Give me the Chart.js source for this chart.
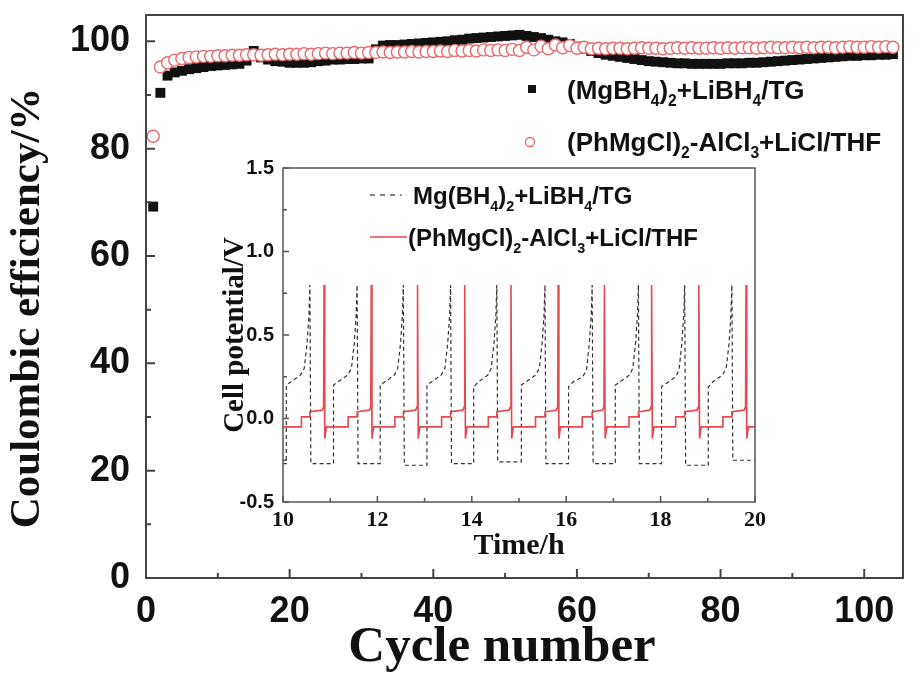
<!DOCTYPE html>
<html>
<head>
<meta charset="utf-8">
<script src="https://cdn.jsdelivr.net/npm/chart.js@4.4.1/dist/chart.umd.min.js"></script>
<style>
  html, body { margin: 0; padding: 0; background: #fff; }
  #wrap { position: relative; width: 920px; height: 675px; }
  #main { position: absolute; left: 0; top: 0; }
  #inset { position: absolute; left: 210px; top: 150px; }
</style>
</head>
<body>
<div id="wrap">
  <canvas id="main" width="920" height="675"></canvas>
  <canvas id="inset" width="560" height="420"></canvas>
</div>
<script>
// coulombic efficiency per cycle (%)
const cycles = Array.from({ length: 104 }, (_, i) => i + 1);
const tgEff = [
  69.2, 90.4, 93.6, 94.2, 94.5, 94.8, 95.0, 95.2, 95.4, 95.5,
  95.6, 95.7, 95.8, 96.4, 98.2, 97.0, 96.6, 96.3, 96.2, 96.0,
  96.0, 96.0, 96.1, 96.3, 96.4, 96.6, 96.6, 96.7, 96.7, 96.8,
  96.8, 98.5, 99.2, 99.3, 99.3, 99.4, 99.5, 99.6, 99.7, 99.8,
  99.9, 100.0, 100.2, 100.3, 100.5, 100.6, 100.7, 100.8, 100.9, 101.0,
  101.1, 101.2, 101.0, 100.8, 100.6, 100.3, 100.0, 99.8, 99.5, 99.0,
  98.6, 98.2, 97.8, 97.5, 97.3, 97.1, 96.9, 96.7, 96.5, 96.3,
  96.2, 96.1, 96.0, 95.9, 95.9, 95.8, 95.8, 95.8, 95.8, 95.8,
  95.9, 95.9, 95.9, 96.0, 96.0, 96.1, 96.2, 96.3, 96.4, 96.5,
  96.6, 96.7, 96.8, 96.9, 97.0, 97.1, 97.2, 97.3, 97.3, 97.4,
  97.4, 97.5, 97.5, 97.6
];
const thfEff = [
  82.3, 95.2, 96.0, 96.5, 96.8, 97.0, 97.1, 97.2, 97.2, 97.3,
  97.3, 97.4, 97.4, 97.5, 97.5, 97.4, 97.5, 97.6, 97.5, 97.6,
  97.6, 97.7, 97.6, 97.7, 97.8, 97.7, 97.8, 97.8, 97.9, 97.8,
  97.9, 97.9, 98.0, 97.9, 98.0, 98.0, 98.1, 98.0, 98.1, 98.1,
  98.2, 98.1, 98.3, 98.2, 98.3, 98.2, 98.4, 98.3, 98.4, 98.3,
  98.5, 98.3, 98.9, 98.4, 99.1, 98.6, 99.3, 98.8, 99.2, 98.7,
  98.9, 98.6, 98.7, 98.6, 98.7, 98.7, 98.6, 98.7, 98.8, 98.7,
  98.7, 98.6, 98.7, 98.8, 98.7, 98.8, 98.7, 98.7, 98.8, 98.7,
  98.8, 98.7, 98.8, 98.8, 98.7, 98.8, 98.9, 98.8, 98.8, 98.9,
  98.8, 98.9, 98.8, 98.9, 98.9, 98.8, 98.9, 99.0, 98.9, 98.9,
  99.0, 98.9, 99.0, 98.9
];
const cycleTicks = [0, 20, 40, 60, 80, 100];
const effTicks = [0, 20, 40, 60, 80, 100];

// cell potential vs time, [h, V]
const tgCurve = [
  [10.00, -0.27], [10.07, -0.27], [10.07, 0.20], [10.17, 0.22], [10.37, 0.26], [10.45, 0.30], [10.51, 0.45], [10.55, 0.62], [10.57, 0.80],
  [10.59, -0.27], [11.07, -0.27], [11.07, 0.20], [11.17, 0.22], [11.37, 0.26], [11.45, 0.30], [11.51, 0.45], [11.55, 0.62], [11.57, 0.80],
  [11.59, -0.27], [12.06, -0.27], [12.06, 0.20], [12.16, 0.22], [12.36, 0.26], [12.43, 0.30], [12.49, 0.45], [12.53, 0.62], [12.55, 0.80],
  [12.57, -0.28], [13.05, -0.28], [13.05, 0.20], [13.15, 0.22], [13.35, 0.26], [13.43, 0.30], [13.49, 0.45], [13.53, 0.62], [13.55, 0.80],
  [13.57, -0.27], [14.04, -0.27], [14.04, 0.19], [14.14, 0.22], [14.34, 0.26], [14.41, 0.30], [14.47, 0.45], [14.51, 0.62], [14.53, 0.80],
  [14.55, -0.26], [15.05, -0.26], [15.05, 0.20], [15.15, 0.22], [15.35, 0.26], [15.43, 0.30], [15.49, 0.45], [15.53, 0.62], [15.55, 0.80],
  [15.57, -0.27], [16.05, -0.27], [16.05, 0.19], [16.15, 0.22], [16.35, 0.25], [16.43, 0.29], [16.49, 0.45], [16.53, 0.62], [16.55, 0.80],
  [16.57, -0.27], [17.04, -0.27], [17.04, 0.20], [17.14, 0.22], [17.34, 0.26], [17.41, 0.30], [17.47, 0.45], [17.51, 0.62], [17.53, 0.80],
  [17.55, -0.27], [18.02, -0.27], [18.02, 0.19], [18.12, 0.21], [18.32, 0.25], [18.39, 0.29], [18.45, 0.45], [18.49, 0.62], [18.51, 0.80],
  [18.53, -0.28], [19.01, -0.28], [19.01, 0.19], [19.11, 0.22], [19.31, 0.26], [19.39, 0.30], [19.45, 0.45], [19.49, 0.62], [19.51, 0.80],
  [19.53, -0.25], [20.00, -0.25]
];
const thfCurve = [
  [10.00, -0.05], [10.39, -0.05], [10.39, 0.01], [10.57, 0.01], [10.57, 0.04], [10.83, 0.05], [10.86, 0.07], [10.87, 0.80], [10.885, -0.12], [10.92, -0.05],
  [11.38, -0.05], [11.38, 0.01], [11.57, 0.01], [11.57, 0.04], [11.83, 0.05], [11.86, 0.07], [11.87, 0.80], [11.885, -0.12], [11.92, -0.05],
  [12.37, -0.05], [12.37, 0.01], [12.55, 0.01], [12.55, 0.04], [12.81, 0.05], [12.84, 0.07], [12.85, 0.80], [12.865, -0.12], [12.90, -0.05],
  [13.36, -0.05], [13.36, 0.01], [13.55, 0.01], [13.55, 0.04], [13.81, 0.05], [13.84, 0.07], [13.85, 0.80], [13.865, -0.12], [13.90, -0.05],
  [14.35, -0.05], [14.35, 0.01], [14.53, 0.01], [14.53, 0.04], [14.79, 0.05], [14.82, 0.07], [14.83, 0.80], [14.845, -0.12], [14.88, -0.05],
  [15.35, -0.05], [15.35, 0.01], [15.55, 0.01], [15.55, 0.04], [15.79, 0.05], [15.82, 0.07], [15.83, 0.80], [15.845, -0.12], [15.88, -0.05],
  [16.34, -0.05], [16.34, 0.01], [16.55, 0.01], [16.55, 0.04], [16.77, 0.05], [16.80, 0.07], [16.81, 0.80], [16.825, -0.12], [16.86, -0.05],
  [17.33, -0.05], [17.33, 0.01], [17.53, 0.01], [17.53, 0.04], [17.77, 0.05], [17.80, 0.07], [17.81, 0.80], [17.825, -0.12], [17.86, -0.05],
  [18.32, -0.05], [18.32, 0.01], [18.51, 0.01], [18.51, 0.04], [18.77, 0.05], [18.80, 0.07], [18.81, 0.80], [18.825, -0.12], [18.86, -0.05],
  [19.32, -0.05], [19.32, 0.01], [19.51, 0.01], [19.51, 0.04], [19.77, 0.05], [19.80, 0.07], [19.81, 0.80], [19.825, -0.12], [19.86, -0.05],
  [20.00, -0.05]
];
const timeTicks = [10, 12, 14, 16, 18, 20];
const voltTicks = [-0.5, 0.0, 0.5, 1.0, 1.5];

const SANS = "'Liberation Sans', Arial, sans-serif";
const SERIF = "'Liberation Serif', 'Times New Roman', serif";
const RED = '#e5484e';

// text with subscripts: parts are [text, isSub]
function drawRich(ctx, parts, x, y, size) {
  let cx = x;
  parts.forEach(([txt, sub]) => {
    const s = sub ? size * 0.6 : size;
    ctx.font = `bold ${s}px ${SANS}`;
    ctx.fillText(txt, cx, sub ? y + size * 0.28 : y);
    cx += ctx.measureText(txt).width;
  });
}

// keep the plot box where the layout puts it, no room for label overflow
const fixWidth = w => s => { s.width = w; s.paddingTop = 0; s.paddingBottom = 0; };
const fixHeight = h => s => { s.height = h; s.paddingLeft = 0; s.paddingRight = 0; };

// box round the plot area plus inward tick marks on the bottom and left axes
const framePlugin = {
  id: 'frame',
  afterDatasetsDraw(chart, args, o) {
    const { ctx, chartArea: a, scales: { x, y } } = chart;
    ctx.save();
    ctx.strokeStyle = o.color;
    ctx.lineWidth = o.width;
    ctx.strokeRect(a.left, a.top, a.right - a.left, a.bottom - a.top);
    ctx.beginPath();
    o.xMajor.forEach(v => { const p = x.getPixelForValue(v); ctx.moveTo(p, a.bottom); ctx.lineTo(p, a.bottom - o.major); });
    o.xMinor.forEach(v => { const p = x.getPixelForValue(v); ctx.moveTo(p, a.bottom); ctx.lineTo(p, a.bottom - o.minor); });
    o.yMajor.forEach(v => { const p = y.getPixelForValue(v); ctx.moveTo(a.left, p); ctx.lineTo(a.left + o.major, p); });
    o.yMinor.forEach(v => { const p = y.getPixelForValue(v); ctx.moveTo(a.left, p); ctx.lineTo(a.left + o.minor, p); });
    ctx.lineWidth = o.tickWidth;
    ctx.stroke();
    ctx.restore();
  }
};

// legend with chemical subscripts, plus free captions
const keyPlugin = {
  id: 'key',
  afterDraw(chart, args, o) {
    const { ctx } = chart;
    ctx.save();
    ctx.fillStyle = '#111';
    ctx.textBaseline = 'alphabetic';
    o.items.forEach(it => {
      ctx.save();
      if (it.type === 'rect') {
        ctx.fillStyle = '#111';
        ctx.fillRect(it.mx - 4, it.my - 4, 8, 8);
      } else if (it.type === 'circle') {
        ctx.strokeStyle = '#e8686c'; ctx.lineWidth = 1.3;
        ctx.beginPath(); ctx.arc(it.mx, it.my, 4.5, 0, Math.PI * 2); ctx.stroke();
      } else if (it.type === 'dash') {
        ctx.strokeStyle = '#333'; ctx.lineWidth = 1.2; ctx.setLineDash([5, 5]);
        ctx.beginPath(); ctx.moveTo(it.mx, it.my); ctx.lineTo(it.mx + 32, it.my); ctx.stroke();
      } else {
        ctx.strokeStyle = RED; ctx.lineWidth = 1.6;
        ctx.beginPath(); ctx.moveTo(it.mx, it.my); ctx.lineTo(it.mx + 37, it.my); ctx.stroke();
      }
      ctx.restore();
      drawRich(ctx, it.parts, it.tx, it.ty, o.size);
    });
    (o.captions || []).forEach(c => {
      ctx.save();
      ctx.font = c.font;
      ctx.textAlign = 'center';
      ctx.textBaseline = 'middle';
      ctx.translate(c.x, c.y);
      ctx.rotate(c.rotation || 0);
      ctx.fillText(c.text, 0, 0);
      ctx.restore();
    });
    ctx.restore();
  }
};

new Chart(document.getElementById('main'), {
  type: 'scatter',
  data: {
    datasets: [
      {
        label: '(MgBH4)2+LiBH4/TG',
        data: cycles.map((c, i) => ({ x: c, y: tgEff[i] })),
        pointStyle: 'rect',
        pointRadius: 7,
        backgroundColor: '#111',
        borderColor: '#111',
        borderWidth: 0,
        order: 2
      },
      {
        label: '(PhMgCl)2-AlCl3+LiCl/THF',
        data: cycles.map((c, i) => ({ x: c, y: thfEff[i] })),
        pointStyle: 'circle',
        pointRadius: 6,
        backgroundColor: '#fff',
        borderColor: '#e8686c',
        borderWidth: 1.4,
        order: 1
      }
    ]
  },
  options: {
    responsive: false,
    animation: false,
    layout: { padding: { left: 0, top: 15, right: 17, bottom: 0 } },
    plugins: {
      legend: { display: false },
      tooltip: { enabled: false },
      frame: {
        color: '#444', width: 2, tickWidth: 2, major: 9, minor: 5,
        xMajor: cycleTicks, xMinor: [10, 30, 50, 70, 90],
        yMajor: effTicks, yMinor: [10, 30, 50, 70, 90]
      },
      key: {
        size: 26,
        items: [
          { type: 'rect', mx: 532, my: 89, tx: 567, ty: 99,
            parts: [['(MgBH', 0], ['4', 1], [')', 0], ['2', 1], ['+LiBH', 0], ['4', 1], ['/TG', 0]] },
          { type: 'circle', mx: 530, my: 142, tx: 567, ty: 151,
            parts: [['(PhMgCl)', 0], ['2', 1], ['-AlCl', 0], ['3', 1], ['+LiCl/THF', 0]] }
        ],
        captions: [
          { text: 'Cycle number', x: 502, y: 648, font: `bold 51px ${SERIF}` },
          { text: 'Coulombic efficiency/%', x: 28, y: 308, rotation: -Math.PI / 2, font: `bold 43px ${SERIF}` }
        ]
      }
    },
    scales: {
      x: {
        type: 'linear', min: 0, max: 105.4,
        afterBuildTicks: s => { s.ticks = cycleTicks.map(v => ({ value: v })); },
        afterFit: fixHeight(97),
        grid: { display: false, drawTicks: false },
        border: { display: false },
        ticks: { padding: 12, color: '#111', font: { family: SANS, size: 36, weight: 'bold' } }
      },
      y: {
        type: 'linear', min: 0, max: 104.9,
        afterBuildTicks: s => { s.ticks = effTicks.map(v => ({ value: v })); },
        afterFit: fixWidth(146),
        grid: { display: false, drawTicks: false },
        border: { display: false },
        ticks: { padding: 16, color: '#111', font: { family: SANS, size: 36, weight: 'bold' } }
      }
    }
  },
  plugins: [framePlugin, keyPlugin]
});

new Chart(document.getElementById('inset'), {
  type: 'scatter',
  data: {
    datasets: [
      {
        label: 'Mg(BH4)2+LiBH4/TG',
        data: tgCurve.map(([t, v]) => ({ x: t, y: v })),
        showLine: true,
        pointRadius: 0,
        borderColor: '#333',
        borderWidth: 1.2,
        borderDash: [4, 3],
        tension: 0,
        order: 2
      },
      {
        label: '(PhMgCl)2-AlCl3+LiCl/THF',
        data: thfCurve.map(([t, v]) => ({ x: t, y: v })),
        showLine: true,
        pointRadius: 0,
        borderColor: RED,
        borderWidth: 1.6,
        tension: 0,
        order: 1
      }
    ]
  },
  options: {
    responsive: false,
    animation: false,
    layout: { padding: { left: 0, top: 18, right: 15, bottom: 0 } },
    plugins: {
      legend: { display: false },
      tooltip: { enabled: false },
      frame: {
        color: '#555', width: 1.5, tickWidth: 1.5, major: 6, minor: 4,
        xMajor: timeTicks, xMinor: [11, 13, 15, 17, 19],
        yMajor: voltTicks, yMinor: [-0.25, 0.25, 0.75, 1.25]
      },
      key: {
        size: 24,
        items: [
          { type: 'dash', mx: 160, my: 45, tx: 203, ty: 54,
            parts: [['Mg(BH', 0], ['4', 1], [')', 0], ['2', 1], ['+LiBH', 0], ['4', 1], ['/TG', 0]] },
          { type: 'line', mx: 160, my: 87, tx: 198, ty: 96,
            parts: [['(PhMgCl)', 0], ['2', 1], ['-AlCl', 0], ['3', 1], ['+LiCl/THF', 0]] }
        ]
      }
    },
    scales: {
      x: {
        type: 'linear', min: 10, max: 20,
        afterBuildTicks: s => { s.ticks = timeTicks.map(v => ({ value: v })); },
        afterFit: fixHeight(68),
        grid: { display: false, drawTicks: false },
        border: { display: false },
        ticks: { padding: 5, color: '#111', font: { family: SERIF, size: 22, weight: 'bold' } },
        title: { display: true, text: 'Time/h', color: '#111', padding: { bottom: 6 },
                 font: { family: SERIF, size: 30, weight: 'bold' } }
      },
      y: {
        type: 'linear', min: -0.5, max: 1.5,
        afterBuildTicks: s => { s.ticks = voltTicks.map(v => ({ value: v })); },
        afterFit: fixWidth(73),
        grid: { display: false, drawTicks: false },
        border: { display: false },
        ticks: { padding: 9, color: '#111', font: { family: SANS, size: 20, weight: 'bold' },
                 callback: v => v.toFixed(1) },
        title: { display: true, text: 'Cell potential/V', color: '#111', padding: { top: 8 },
                 font: { family: SERIF, size: 29, weight: 'bold' } }
      }
    }
  },
  plugins: [framePlugin, keyPlugin]
});
</script>
</body>
</html>
